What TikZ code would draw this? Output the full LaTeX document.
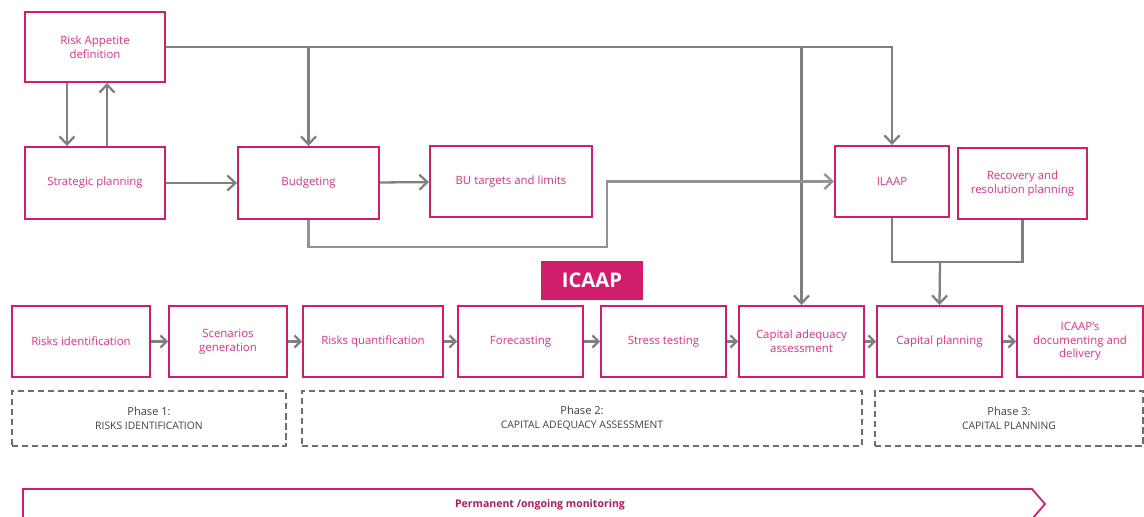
\documentclass[tikz,border=0pt]{standalone}
\usepackage{fontspec}
\setmainfont{Open Sans}
\usetikzlibrary{arrows.meta, positioning}

\definecolor{brandpink}{RGB}{208,30,108}
\definecolor{textpink}{RGB}{224,50,132}
\definecolor{linegray}{RGB}{128,128,128}
\definecolor{dashgray}{RGB}{110,110,110}

\tikzset{
  stage/.style={draw=brandpink, line width=1.1pt, fill=white, text=textpink,
    font=\fontsize{6.5}{7.8}\selectfont, align=center, inner sep=1pt},
  phasebox/.style={draw=dashgray, dash pattern=on 3.5pt off 2.2pt, line width=0.9pt,
    text=black!75, font=\fontsize{6.3}{7.8}\selectfont, align=center},
  link/.style={draw=linegray, line width=1.3pt},
  flow/.style={link, -{Straight Barb[length=1.6mm,width=3mm]}},
  step flow/.style={link, -{Straight Barb[length=1.2mm,width=2.4mm]}},
}

\begin{document}
\begin{tikzpicture}[x=0.02cm, y=-0.02cm]
  % ----- canvas in pixel units of the source (y pointing down) -----
  \useasboundingbox (0,0) rectangle (1144,517);

  % ----- Top: planning boxes -----
  \node[stage, minimum width=2.8cm, minimum height=1.4cm] (risk) at (95,47) {Risk Appetite\\definition};
  \node[stage, minimum width=2.8cm, minimum height=1.44cm] (strat) at (95,183) {Strategic planning};
  \node[stage, minimum width=2.82cm, minimum height=1.44cm] (budget) at (308.5,183) {Budgeting};
  \node[stage, minimum width=3.24cm, minimum height=1.42cm] (bu) at (511,181.5) {BU targets and limits};
  \node[stage, minimum width=2.28cm, minimum height=1.42cm] (ilaap) at (892,181.5) {ILAAP};
  \node[stage, minimum width=2.58cm, minimum height=1.42cm] (recov) at (1022.5,183.5) {Recovery and\\resolution planning};

  % ----- ICAAP tag -----
  \node[fill=brandpink, text=white, font=\fontsize{11.5}{12}\selectfont\bfseries,
    minimum width=2.04cm, minimum height=0.78cm] (icaap) at (592,280.5) {ICAAP};

  % ----- Bottom: ICAAP process -----
  \begin{scope}[every node/.append style={stage, minimum height=1.42cm}]
    \node[minimum width=2.76cm] (ident)  at (81,341.5)     {Risks identification};
    \node[minimum width=2.36cm] (scen)   at (228,341.5)    {Scenarios\\generation};
    \node[minimum width=2.8cm]  (quant)  at (373,341.5)    {Risks quantification};
    \node[minimum width=2.5cm]  (fore)   at (520.5,341.5)  {Forecasting};
    \node[minimum width=2.5cm]  (stress) at (663.5,341.5)  {Stress testing};
    \node[minimum width=2.5cm]  (capad)  at (801.5,341.5)  {Capital adequacy\\assessment};
    \node[minimum width=2.5cm]  (cappl)  at (939.5,341.5)  {Capital planning};
    \node[minimum width=2.52cm] (doc)    at (1080,341.5)   {ICAAP's\\documenting and\\delivery};
  \end{scope}

  % ----- Phases -----
  \node[phasebox, minimum width=5.48cm, minimum height=1.1cm] (ph1) at (149,418.5)
    {Phase 1:\\{\fontsize{5.9}{7}\selectfont RISKS IDENTIFICATION}};
  \node[phasebox, minimum width=11.2cm, minimum height=1.1cm] (ph2) at (582,418.5)
    {Phase 2:\\{\fontsize{5.9}{7}\selectfont CAPITAL ADEQUACY ASSESSMENT}};
  \node[phasebox, minimum width=5.36cm, minimum height=1.1cm] (ph3) at (1009,418.5)
    {Phase 3:\\{\fontsize{5.9}{7}\selectfont CAPITAL PLANNING}};

  % ----- Connectors -----
  \draw[flow] (risk.east) -| (ilaap.north);
  \draw[flow] (budget.north |- risk.east) -- (budget.north);
  \draw[flow] (capad.north |- risk.east) -- (capad.north);
  \draw[flow] ([xshift=-0.56cm]risk.south) -- ([xshift=-0.56cm]strat.north);
  \draw[flow] ([xshift=0.24cm]strat.north) -- ([xshift=0.24cm]risk.south);
  \draw[flow] (strat) -- (budget);
  \draw[flow] (budget) -- (bu);

  \coordinate (jog) at (607,247);
  \draw[flow, draw=linegray!85] (budget.south) |- (jog) |- (ilaap.west);

  \coordinate (merge) at (940,262);
  \draw[link] (ilaap.south) |- (merge) -| (recov.south);
  \draw[flow] (merge) -- (cappl.north);

  \foreach \from/\to in {ident/scen, scen/quant, quant/fore, fore/stress,
                         stress/capad, capad/cappl, cappl/doc}
    \draw[step flow] (\from) -- (\to);

  % ----- Permanent monitoring band -----
  \draw[brandpink, line width=1pt, line join=miter]
    (23,530) -- (23,489) -- (1032,489) -- (1045,504) -- (1032,519) -- (1032,530);
  \node[text=brandpink!85!black, font=\fontsize{6}{7}\selectfont\bfseries] (monitor) at (540,505)
    {Permanent /ongoing monitoring};
\end{tikzpicture}
\end{document}
